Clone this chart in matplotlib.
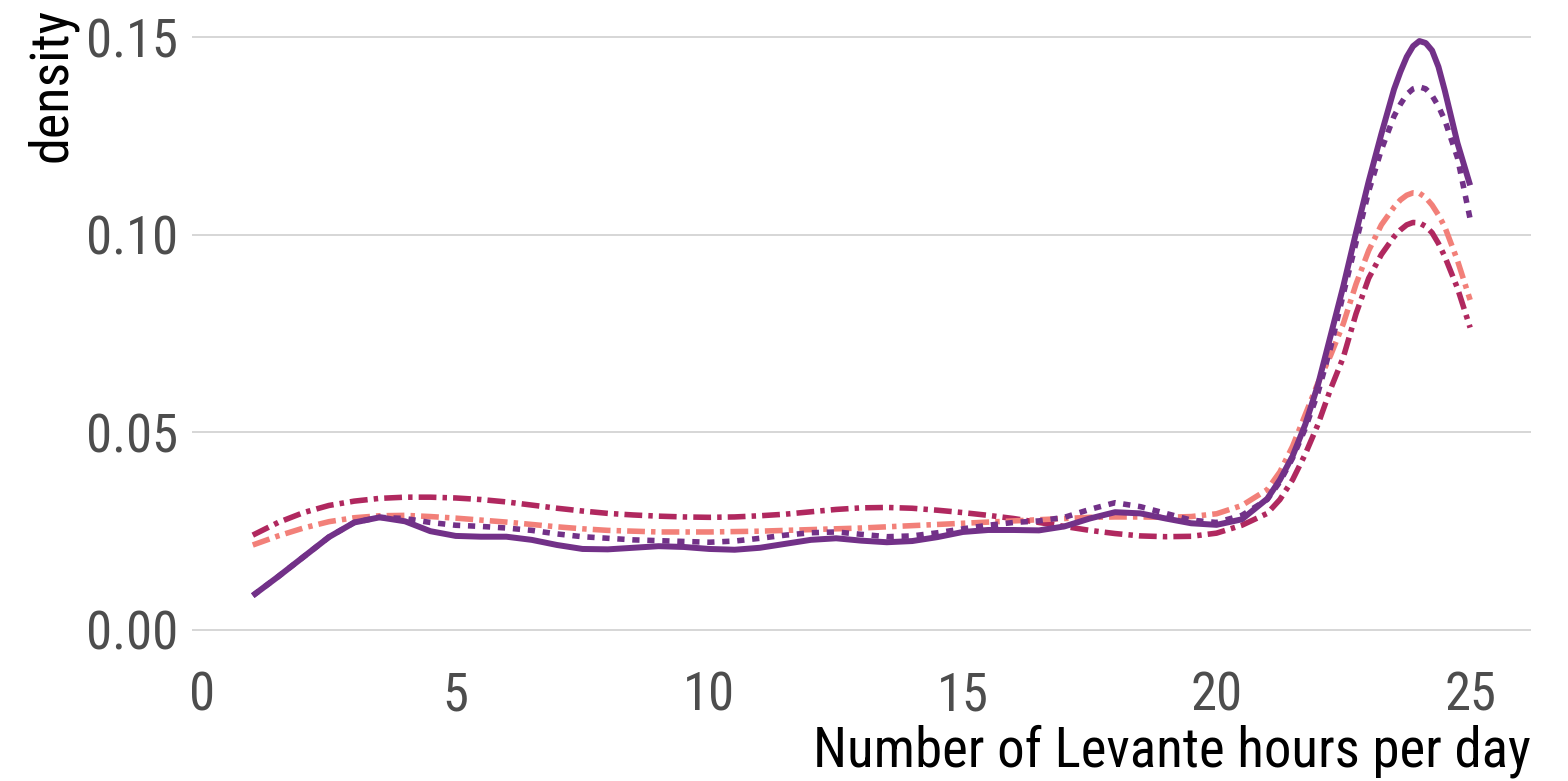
import matplotlib
matplotlib.use("Agg")
import matplotlib.pyplot as plt

plt.rcParams['font.family'] = ['Liberation Sans Narrow', 'Roboto Condensed', 'DejaVu Sans']

# Hours per day (evaluation points of the density curves)
hours = [1, 1.5, 2, 2.5, 3, 3.5, 4, 4.5, 5, 5.5, 6, 6.5, 7, 7.5, 8, 8.5, 9, 9.5,
         10, 10.5, 11, 11.5, 12, 12.5, 13, 13.5, 14, 14.5, 15, 15.5, 16, 16.5,
         17, 17.5, 18, 18.5, 19, 19.5, 20, 20.5, 21,
         21.25, 21.5, 21.75, 22, 22.25, 22.5, 22.75, 23, 23.25, 23.5,
         23.625, 23.75, 23.875, 24, 24.125, 24.25, 24.375, 24.5, 24.75, 25]

dens_solid = [0.0087, 0.0135, 0.0185, 0.0235, 0.0272, 0.0285, 0.0275, 0.0250,
              0.0238, 0.0236, 0.0236, 0.0228, 0.0215, 0.0205, 0.0204, 0.0208,
              0.0212, 0.0210, 0.0205, 0.0203, 0.0208, 0.0218, 0.0228, 0.0232,
              0.0226, 0.0222, 0.0225, 0.0235, 0.0248, 0.0253, 0.0253, 0.0252,
              0.0262, 0.0282, 0.0298, 0.0295, 0.0282, 0.0270, 0.0266, 0.0280,
              0.0332,
              0.0380, 0.0440, 0.0520, 0.0620, 0.0745, 0.0870, 0.1005, 0.1135,
              0.1255, 0.1368,
              0.1412, 0.1450, 0.1477, 0.1490, 0.1485, 0.1466, 0.1425, 0.1365,
              0.1232, 0.1125]

dens_dotted = [0.0087, 0.0135, 0.0185, 0.0235, 0.0272, 0.0285, 0.0282, 0.0272,
               0.0265, 0.0262, 0.0258, 0.0252, 0.0243, 0.0236, 0.0232, 0.0228,
               0.0226, 0.0224, 0.0222, 0.0225, 0.0232, 0.0240, 0.0246, 0.0248,
               0.0242, 0.0236, 0.0238, 0.0246, 0.0256, 0.0265, 0.0272, 0.0276,
               0.0285, 0.0305, 0.0322, 0.0312, 0.0295, 0.0278, 0.0272, 0.0290,
               0.0330,
               0.0375, 0.0435, 0.0510, 0.0600, 0.0715, 0.0850, 0.0980, 0.1110,
               0.1215, 0.1300,
               0.1330, 0.1355, 0.1369, 0.1374, 0.1369, 0.1352, 0.1325, 0.1290,
               0.1195, 0.1040]

dens_salmon = [0.0215, 0.0238, 0.0258, 0.0274, 0.0284, 0.0289, 0.0290, 0.0287,
               0.0283, 0.0278, 0.0273, 0.0267, 0.0261, 0.0256, 0.0252, 0.0250,
               0.0248, 0.0248, 0.0248, 0.0249, 0.0250, 0.0252, 0.0254, 0.0256,
               0.0258, 0.0261, 0.0264, 0.0267, 0.0270, 0.0273, 0.0276, 0.0279,
               0.0282, 0.0285, 0.0286, 0.0286, 0.0285, 0.0287, 0.0294, 0.0315,
               0.0355,
               0.0400, 0.0465, 0.0545, 0.0625, 0.0695, 0.0775, 0.0875, 0.0960,
               0.1025, 0.1070,
               0.1088, 0.1100, 0.1106, 0.1105, 0.1094, 0.1075, 0.1050, 0.1020,
               0.0935, 0.0835]

dens_crimson = [0.0240, 0.0272, 0.0297, 0.0315, 0.0326, 0.0333, 0.0336, 0.0336,
                0.0334, 0.0330, 0.0324, 0.0316, 0.0308, 0.0301, 0.0295, 0.0291,
                0.0288, 0.0286, 0.0285, 0.0286, 0.0289, 0.0293, 0.0299, 0.0305,
                0.0309, 0.0310, 0.0308, 0.0303, 0.0297, 0.0290, 0.0282, 0.0272,
                0.0262, 0.0252, 0.0244, 0.0238, 0.0236, 0.0237, 0.0245, 0.0265,
                0.0295,
                0.0330, 0.0380, 0.0445, 0.0520, 0.0610, 0.0690, 0.0800, 0.0890,
                0.0950, 0.0995,
                0.1012, 0.1025, 0.1031, 0.1030, 0.1021, 0.1005, 0.0978, 0.0945,
                0.0865, 0.0765]

x_ticks = [0, 5, 10, 15, 20, 25]
y_ticks = [0.00, 0.05, 0.10, 0.15]
y_tick_labels = ["0.00", "0.05", "0.10", "0.15"]

purple = "#723188"
crimson = "#B0285F"
salmon = "#F28079"

fig = plt.figure(figsize=(15.68, 7.81), dpi=100)
ax = fig.add_axes([0.1224, 0.1554, 0.854, 0.830])

dashdot = (3.2, 1.1, 0.8, 1.1)
ax.plot(hours, dens_crimson, color=crimson, lw=4.0, dashes=dashdot,
        solid_joinstyle='round', dash_joinstyle='round')
ax.plot(hours, dens_salmon, color=salmon, lw=4.0, dashes=dashdot,
        solid_joinstyle='round', dash_joinstyle='round')
ax.plot(hours, dens_dotted, color=purple, lw=4.0, dashes=(1.3, 1.4),
        dash_joinstyle='round')
ax.plot(hours, dens_solid, color=purple, lw=4.3, solid_capstyle='butt',
        solid_joinstyle='round')

ax.set_xlim(-0.2, 26.2)
ax.set_ylim(-0.0075, 0.1565)
ax.set_xticks(x_ticks)
ax.set_yticks(y_ticks)
ax.set_yticklabels(y_tick_labels)
ax.yaxis.grid(True, color="#cccccc", lw=1.1)
ax.xaxis.grid(False)
ax.set_axisbelow(True)
for s in ax.spines.values():
    s.set_visible(False)
ax.tick_params(axis='both', length=0, labelsize=38, labelcolor="#4d4d4d")
ax.tick_params(axis='y', pad=10)
ax.tick_params(axis='x', pad=8)

fig.text(0.033, 0.99, "density", rotation=90, va="top", ha="center",
         fontsize=39, color="black")
fig.text(1531 / 1568, 0.019, "Number of Levante hours per day", ha="right",
         va="baseline", fontsize=39.5, color="black")

fig.savefig("out.png", dpi=100)
